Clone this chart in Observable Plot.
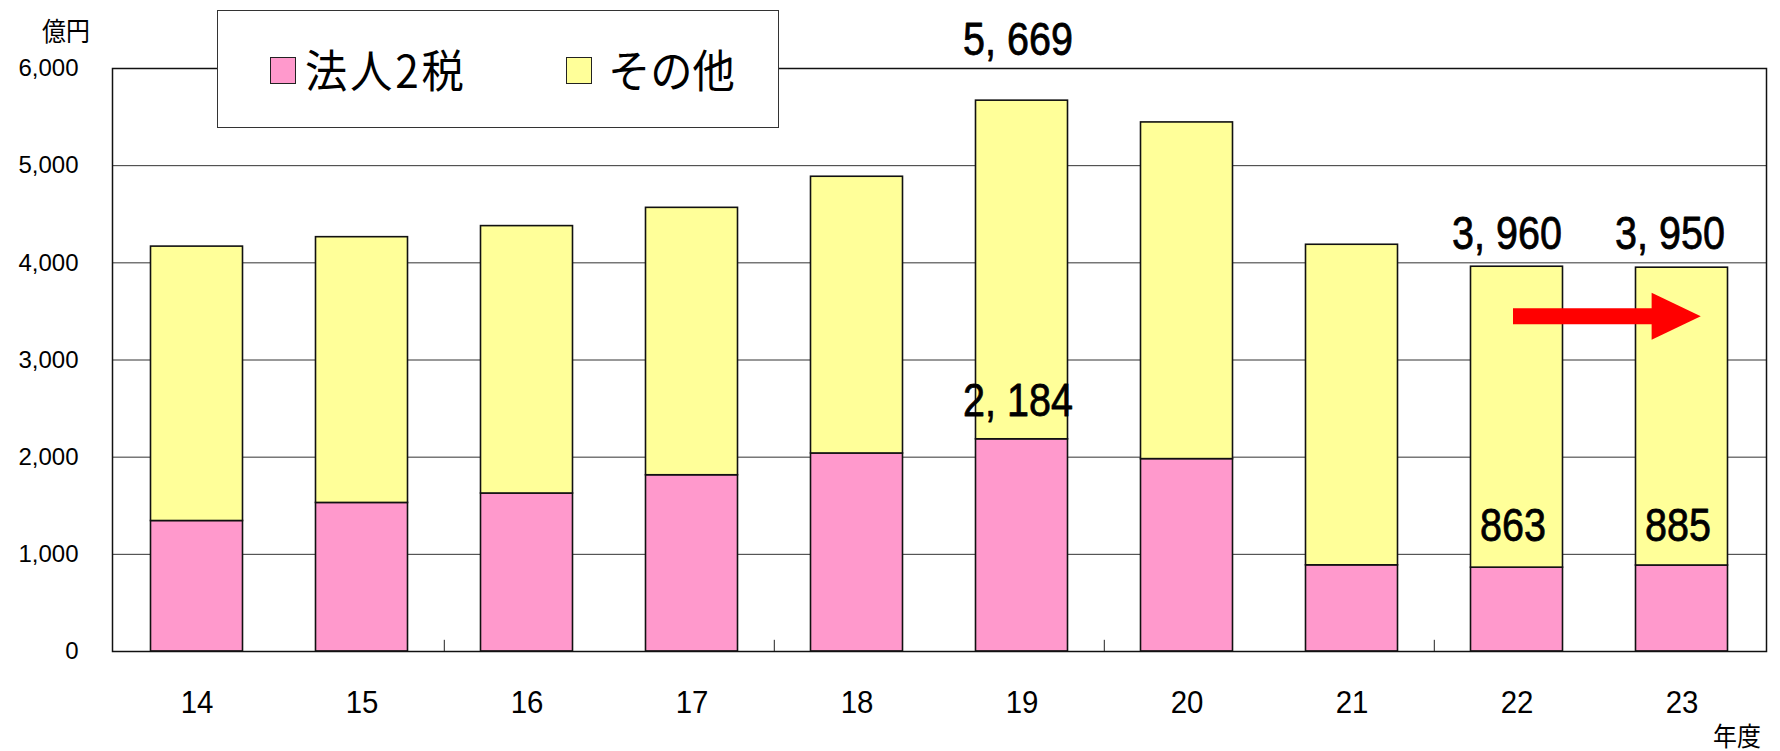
<!DOCTYPE html>
<html><head><meta charset="utf-8">
<script src="https://cdn.jsdelivr.net/npm/d3@7"></script>
<script src="https://cdn.jsdelivr.net/npm/@observablehq/plot@0.6"></script>
<style>
body{margin:0;background:#fff;}
#wrap{position:relative;width:1780px;height:751px;}
.cjk{font-family:"Noto Sans CJK JP",sans-serif;position:absolute;white-space:nowrap;line-height:1;color:#000;transform-origin:0 0;}
.sw{position:absolute;border:1.5px solid #222;box-sizing:border-box;}
</style></head><body><div id="wrap"></div>
<script>
// ---- data ----
const years = ["14","15","16","17","18","19","20","21","22","23"];
const corpTax = [1343, 1529, 1626, 1814, 2038, 2184, 1980, 887, 863, 885];   // 法人2税
const others  = [2824, 2735, 2752, 2752, 2848, 3485, 3465, 3299, 3097, 3065]; // その他
const seriesNames = ["法人2税", "その他"];
const seriesColors = ["#FF99CC", "#FFFF99"];
const yTicks = [0, 1000, 2000, 3000, 4000, 5000, 6000];
const gridValues = [1000, 2000, 3000, 4000, 5000];
const labelYears = ["19", "22", "23"];
const totalLabels = ["5, 669", "3, 960", "3, 950"];
const corpLabels = ["2, 184", "863", "885"];
const tickBoundaryYears = ["16", "18", "20", "22"];
const arrowFrom = "22", arrowTo = "23", arrowLevel = 3450;
const yUnit = "億円", xUnit = "年度";

// ---- derived tables ----
const table = years.flatMap((yr, i) => [
  {year: yr, series: seriesNames[0], value: corpTax[i]},
  {year: yr, series: seriesNames[1], value: others[i]}
]);
const idx = y => years.indexOf(y);
const totalLabelData = labelYears.map((yr, k) => ({year: yr, value: corpTax[idx(yr)] + others[idx(yr)], text: totalLabels[k]}));
const corpLabelData = labelYears.map((yr, k) => ({year: yr, value: corpTax[idx(yr)], text: corpLabels[k]}));

// offsets (pixels) of annotation labels relative to their bar values
const totalOffsets = [{dx: -4, dy: -61}, {dx: -10, dy: -33}, {dx: -12, dy: -34}];
const corpOffsets = [{dx: -4, dy: -38}, {dx: -4, dy: -42}, {dx: -4, dy: -40}];

const FAM_LABEL = "Liberation Sans, sans-serif";
const FAM_XAXIS = "Liberation Sans, Arial, sans-serif";

const arrowHead = {
  draw(ctx, size) {
    const s = Math.sqrt(size);
    ctx.moveTo(0.88 * s, 0);
    ctx.lineTo(-0.44 * s, -0.63 * s);
    ctx.lineTo(-0.44 * s, 0.63 * s);
    ctx.closePath();
  }
};

const labelMark = (d, o) => Plot.text([d], {
  x: "year", y: "value", text: "text", dx: o.dx, dy: o.dy,
  fontSize: 47, fontFamily: FAM_LABEL, fill: "#000", stroke: "#000", strokeWidth: 0.8
});

const chart = Plot.plot({
  width: 1780, height: 751,
  marginLeft: 112, marginRight: 14, marginTop: 68, marginBottom: 100,
  style: {background: "#fff", color: "#000", fontFamily: "Arial, 'Liberation Sans', sans-serif"},
  x: {domain: years, padding: 0, label: null},
  y: {domain: [0, 6000], label: null},
  color: {domain: seriesNames, range: seriesColors},
  marks: [
    Plot.ruleY(gridValues, {stroke: "#333", strokeWidth: 1}),
    Plot.barY(table, {x: "year", y: "value", fill: "series", stroke: "#111", strokeWidth: 1.6, insetLeft: 36.5, insetRight: 36.5}),
    Plot.ruleX(tickBoundaryYears, {x: d => d, y1: () => 0, y2: () => 115, dx: -82.7, stroke: "#222"}),
    Plot.frame({stroke: "#111", strokeWidth: 1.5}),
    Plot.axisY(yTicks, {tickSize: 0, tickPadding: 34, tickFormat: d3.format(","), fontSize: 24, label: null}),
    Plot.axisX({tickSize: 0, tickPadding: 39, fontSize: 32, fontFamily: FAM_XAXIS, label: null}),
    ...totalLabelData.map((d, k) => labelMark(d, totalOffsets[k])),
    ...corpLabelData.map((d, k) => labelMark(d, corpOffsets[k])),
    Plot.link([{a: arrowFrom, b: arrowTo, v: arrowLevel}], {x1: "a", x2: "b", y1: "v", y2: "v", stroke: "#FF0000", strokeWidth: 16, dx: -4}),
    Plot.dot([{a: arrowTo, v: arrowLevel}], {x: "a", y: "v", symbol: arrowHead, r: 21, fill: "#FF0000", stroke: "none", dx: -14})
  ]
});

const wrap = document.getElementById("wrap");
wrap.appendChild(chart);

// condense the number glyphs (the original uses a narrow gothic face)
function squeeze(fam, factor) {
  chart.querySelectorAll(`[font-family="${fam}"] text`).forEach(t => {
    const len = t.getComputedTextLength();
    t.setAttribute("textLength", (len * factor).toFixed(1));
    t.setAttribute("lengthAdjust", "spacingAndGlyphs");
  });
}
squeeze(FAM_LABEL, 0.84);
squeeze(FAM_XAXIS, 0.92);

// legend box overlapping the plot, unit labels
const legend = document.createElement("div");
legend.style.cssText = "position:absolute;left:217px;top:10px;width:562px;height:118px;background:#fff;border:1px solid #333;box-sizing:border-box;";
const items = [{sx: 52, tx: 87, ls: 3}, {sx: 348, tx: 390, ls: 0}];
seriesNames.forEach((name, i) => {
  const sw = document.createElement("div");
  sw.className = "sw";
  sw.style.cssText += `left:${items[i].sx}px;top:46px;width:26px;height:27px;background:${seriesColors[i]};`;
  legend.appendChild(sw);
  const t = document.createElement("div");
  t.className = "cjk";
  t.textContent = name;
  t.style.cssText += `left:${items[i].tx}px;top:35px;font-size:45px;letter-spacing:${items[i].ls}px;transform:scaleX(0.94);`;
  legend.appendChild(t);
});
wrap.appendChild(legend);

const yu = document.createElement("div");
yu.className = "cjk"; yu.textContent = yUnit;
yu.style.cssText += "left:42px;top:17px;font-size:26px;transform:scaleX(0.92);";
wrap.appendChild(yu);
const xu = document.createElement("div");
xu.className = "cjk"; xu.textContent = xUnit;
xu.style.cssText += "left:1713px;top:722px;font-size:26px;transform:scaleX(0.92);";
wrap.appendChild(xu);
</script></body></html>
